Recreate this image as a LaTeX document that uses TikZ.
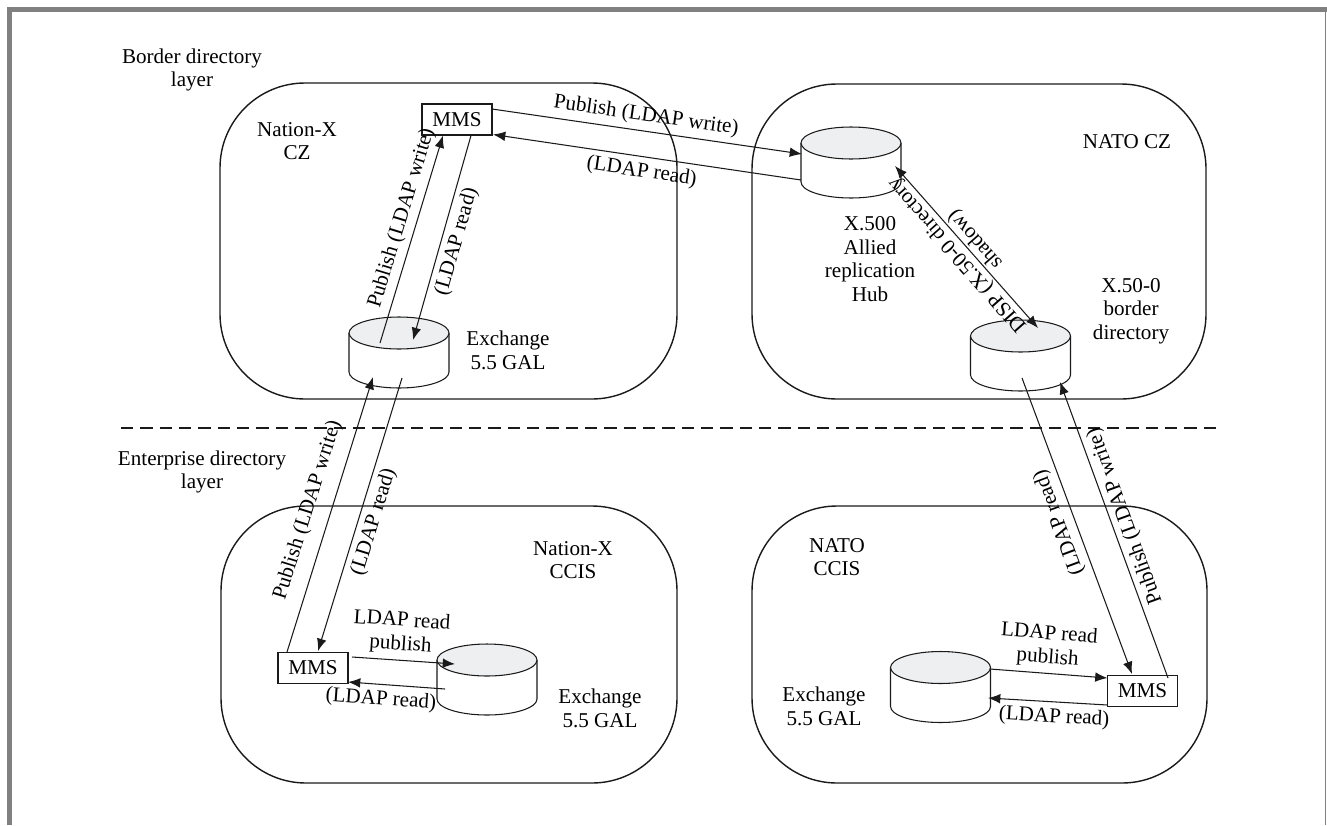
\documentclass[tikz,border=0pt]{standalone}
\usepackage{fontspec}
\setmainfont{Liberation Serif}
\usetikzlibrary{arrows.meta,positioning,calc}
\definecolor{dirFrame}{HTML}{808080}
\definecolor{dirInk}{HTML}{1A1A1A}
\definecolor{dirCap}{HTML}{EEEFF0}
\tikzset{
    dirText/.style={
        font=\fontsize{12}{13.5}\selectfont,
        align=center,
        inner sep=2pt
    },
    dirZone/.style={draw=dirInk, line width=0.8pt, rounded corners=17mm},
    dirMms/.style={
        rectangle,
        draw=dirInk,
        line width=0.6pt,
        minimum width=14mm,
        minimum height=6.2mm,
        inner sep=0pt,
        font=\fontsize{12}{13.5}\selectfont
    },
    dirStore/.style={rectangle, minimum width=20mm, minimum height=14.2mm, inner sep=0pt},
    dirDisk/.style={draw=dirInk, line width=0.6pt, fill=white},
    % Arrows
    dirFlow/.style={>={Latex[length=7pt,width=5.5pt]}, line width=0.6pt, draw=dirInk},
    dirLabel/.style={dirText, sloped, inner sep=3pt},
    dirLayer/.style={draw=dirInk, line width=0.7pt, dash pattern=on 7pt off 4pt}
}
% store drum: name, x, y
\newcommand{\galStore}[3]{%
    \node[dirStore] (#1) at (#2,#3) {};
    \draw[dirDisk] ([shift={(-50,-19.5)}]#1.center) -- ([shift={(-50,19.5)}]#1.center)
        arc[start angle=180, end angle=360, x radius=10mm, y radius=3.2mm]
        -- ([shift={(50,-19.5)}]#1.center);
    \draw[dirDisk, fill=dirCap] ([shift={(0,-19.5)}]#1.center) ellipse[x radius=10mm, y radius=3.2mm];
}
\begin{document}
\begin{tikzpicture}[x=0.2mm, y=-0.2mm]
    \useasboundingbox (0,0) rectangle (1327,825);
    % frame
    \draw[dirFrame, line width=2.8pt] (9.5,825) -- (9.5,9.5) -- (1327,9.5);
    \draw[dirFrame, line width=0.9pt] (1325.5,12) -- (1325.5,825);

    % zones and layer split
    \draw[dirZone] (220,83) rectangle (677,399);
    \draw[dirZone] (752,84) rectangle (1206,399);
    \draw[dirZone] (221,506) rectangle (677,783);
    \draw[dirZone] (752,506) rectangle (1207,783);
    \draw[dirLayer] (121,428) -- (1220,428);

    \node[dirText] (borderLayer) at (192,70) {Border directory\\layer};
    \node[dirText] (entLayer) at (202,472) {Enterprise directory\\layer};
    \node[dirText] (czX) at (297,141) {Nation-X\\CZ};
    \node[dirText] (czN) at (1127,142) {NATO CZ};
    \node[dirText] (ccisX) at (573,560) {Nation-X\\CCIS};
    \node[dirText] (ccisN) at (837,557) {NATO\\CCIS};

    \node[dirMms] (mmsA) at (457,119.5) {MMS};
    \node[dirMms] (mmsB) at (313,668) {MMS};
    \node[dirMms] (mmsC) at (1142.5,691) {MMS};

    \galStore{galA}{399}{352.5}
    \galStore{hub}{851}{162.5}
    \galStore{bdir}{1020.5}{355.5}
    \galStore{galB}{487}{679.5}
    \galStore{galC}{940.5}{687}

    \node[dirText] (galAText) at (508,350) {Exchange\\5.5 GAL};
    \node[dirText] (hubText) at (870,259) {X.500\\Allied\\replication\\Hub};
    \node[dirText] (bdirText) at (1131,311) {X.50-0\\border\\directory};
    \node[dirText] (galBText) at (600,708) {Exchange\\5.5 GAL};
    \node[dirText] (galCText) at (824,706) {Exchange\\5.5 GAL};

    % border layer flows
    \draw[dirFlow, ->] ([shift={(35,-10.5)}]mmsA.center) -- node[dirLabel, above, pos=0.49] {Publish (LDAP write)} ([shift={(-49,-8.5)}]hub.center);
    \draw[dirFlow, <-] ([shift={(36,15)}]mmsA.center) -- node[dirLabel, below, pos=0.49] {(LDAP read)} ([shift={(-50,17.5)}]hub.center);
    \draw[dirFlow, ->] ([shift={(-19,-9.5)}]galA.center) -- node[dirLabel, above, pos=0.58] {Publish (LDAP write)} ([shift={(-14,16)}]mmsA.center);
    \draw[dirFlow, <-] ([shift={(14,-12.5)}]galA.center) -- node[dirLabel, below, pos=0.5] {(LDAP read)} ([shift={(14,16)}]mmsA.center);
    \draw[dirFlow, <->] ([shift={(17.5,-27.5)}]bdir.center) -- node[dirLabel, allow upside down, pos=0.5] {DISP (X.50-0 directory\\shadow)} ([shift={(44,3.5)}]hub.center);

    % across the layers
    \draw[dirFlow, ->] ([shift={(-26,-16)}]mmsB.center) -- node[dirLabel, above=4pt, pos=0.49] {Publish (LDAP write)} ([shift={(-26,24.5)}]galA.center);
    \draw[dirFlow, <-] ([shift={(5,-17)}]mmsB.center) -- node[dirLabel, below, pos=0.49] {(LDAP read)} ([shift={(3,25.5)}]galA.center);
    \draw[dirFlow, <-] ([shift={(-10.5,-17)}]mmsC.center) -- node[dirLabel, allow upside down, above, pos=0.53] {(LDAP read)} ([shift={(1.5,22.5)}]bdir.center);
    \draw[dirFlow, ->] ([shift={(25.5,-13)}]mmsC.center) -- node[dirLabel, allow upside down, below, pos=0.53] {Publish (LDAP write)} ([shift={(39.5,26.5)}]bdir.center);

    % enterprise layer flows
    \draw[dirFlow, ->] ([shift={(39,-11)}]mmsB.center) -- node[dirLabel, above, pos=0.46] {LDAP read\\publish} ([shift={(-32,-15.5)}]galB.center);
    \draw[dirFlow, <-] ([shift={(35,14)}]mmsB.center) -- node[dirLabel, below, pos=0.35] {(LDAP read)} ([shift={(-42,9.5)}]galB.center);
    \draw[dirFlow, ->] ([shift={(49.5,-18)}]galC.center) -- node[dirLabel, above, pos=0.48] {LDAP read\\publish} ([shift={(-35,-13)}]mmsC.center);
    \draw[dirFlow, <-] ([shift={(47.5,11)}]galC.center) -- node[dirLabel, below, pos=0.56] {(LDAP read)} ([shift={(-35,14)}]mmsC.center);
\end{tikzpicture}
\end{document}
